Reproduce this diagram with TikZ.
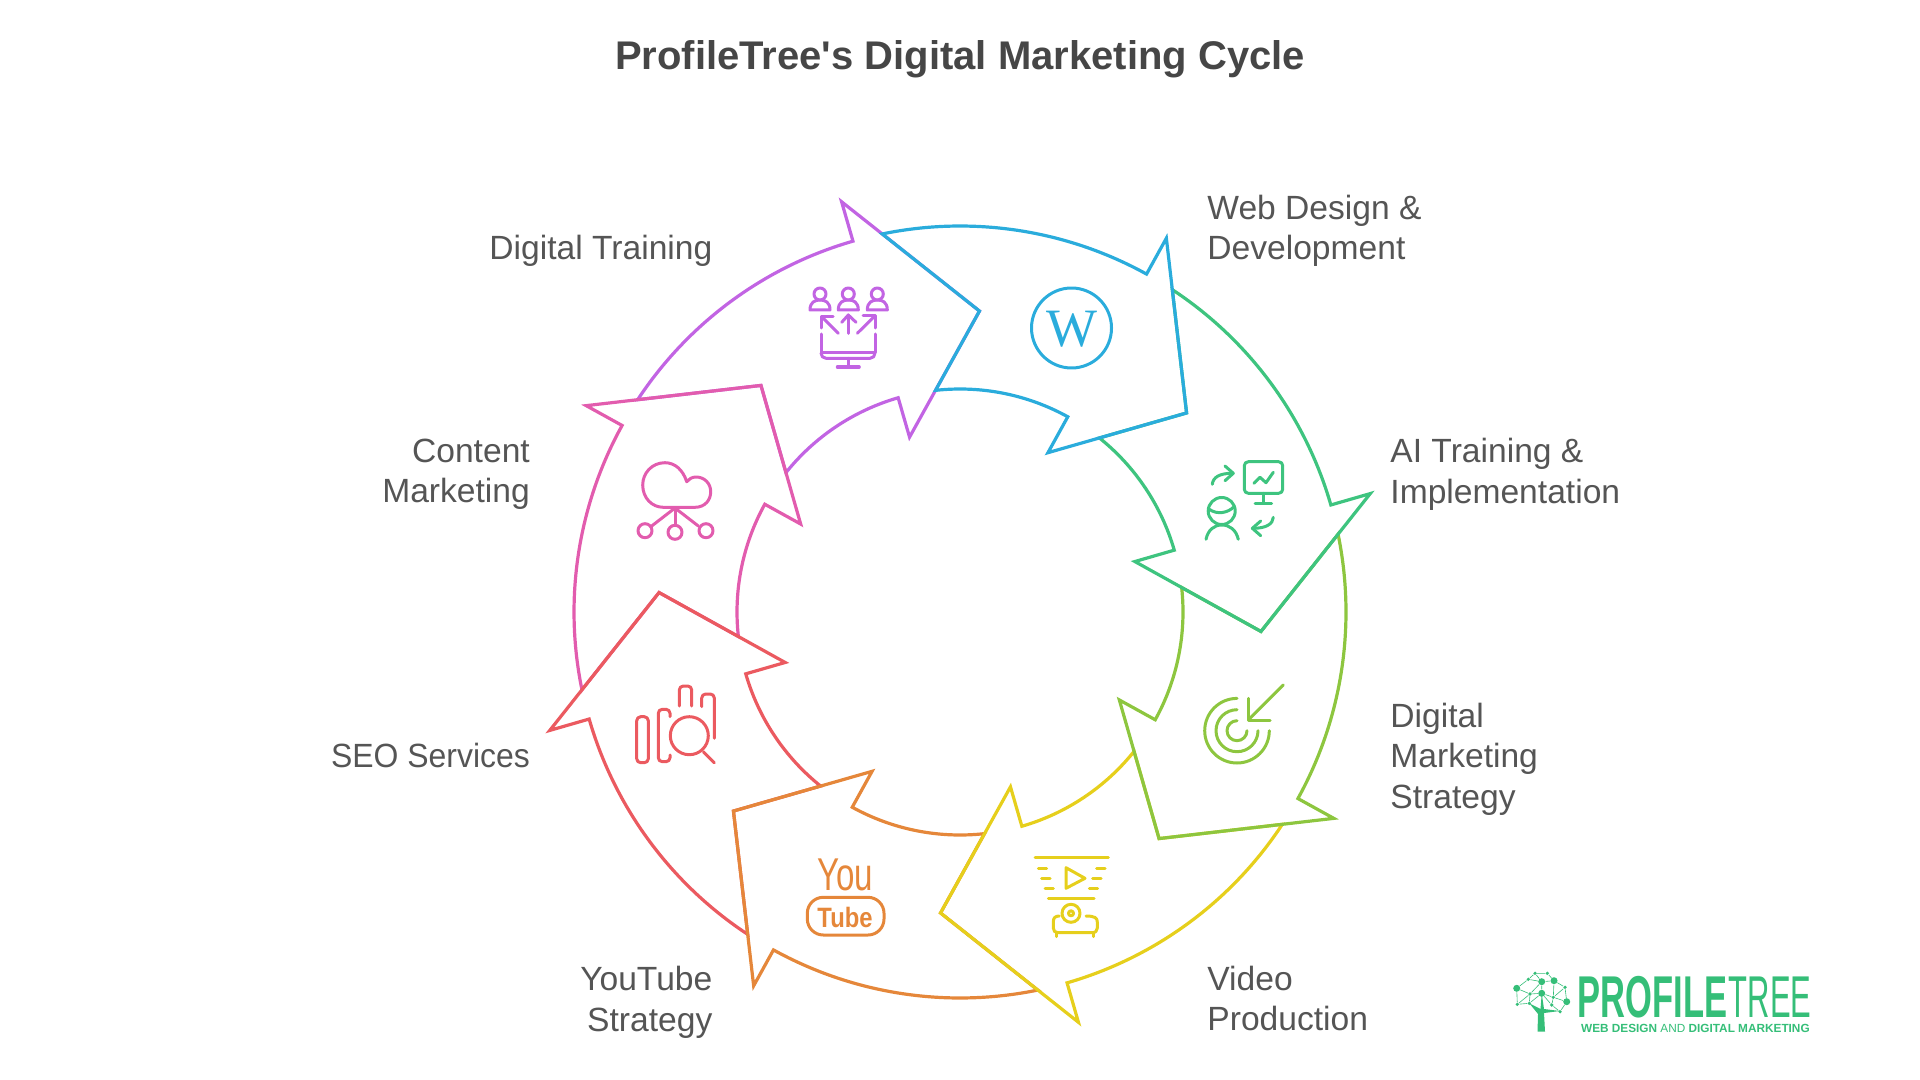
\documentclass[tikz,border=0pt]{standalone}
\usepackage{fontspec}
\setmainfont[Ligatures=TeXOff]{Liberation Sans}
\newfontfamily\wfont{Liberation Serif}
\definecolor{trainpurple}{HTML}{C264E3}
\definecolor{webblue}{HTML}{2AACDC}
\definecolor{aigreen}{HTML}{3EC47F}
\definecolor{stratlime}{HTML}{8DC63F}
\definecolor{videoyellow}{HTML}{E6CF1C}
\definecolor{tubeorange}{HTML}{E5873A}
\definecolor{seored}{HTML}{EB5A60}
\definecolor{contentpink}{HTML}{E25CAE}
\definecolor{logogreen}{HTML}{35BE78}
\definecolor{labelgray}{HTML}{555555}
\definecolor{titlegray}{HTML}{464646}
\tikzset{
    segment/.style={line width=1.6pt},
    icon/.style={line width=1.5pt, line cap=round, line join=round},
    label/.style={text=labelgray, inner sep=0pt, font=\fontsize{16.8}{20.2}\selectfont},
    labelleft/.style={label, anchor=east, align=right},
    labelright/.style={label, anchor=west, align=left},
    logodot/.style={circle, fill=logogreen, inner sep=0pt, minimum size=#1},
    logoline/.style={line width=0.3pt, logogreen}
}

\begin{document}
\begin{tikzpicture}[x=0.5pt, y=-0.5pt]
            \useasboundingbox (0, 0) rectangle (1920, 1080);

            % Title
            \node[text=titlegray, font=\fontsize{20}{24}\selectfont\bfseries] (title) at (960, 59.5) {ProfileTree's Digital Marketing Cycle};

            % Arrows of the ring
            \begin{scope}[shift={(960, 612)}]
                \draw[segment, trainpurple] (213.37:386) arc[start angle=213.37, end angle=253.9, radius=386] -- (253.9:427) -- (273.7:301.6) -- (253.9:182) -- (253.9:223) arc[start angle=253.9, end angle=218.69, radius=223] -- (228.7:301.6) -- cycle;
                \draw[segment, contentpink] (168.37:386) arc[start angle=168.37, end angle=208.9, radius=386] -- (208.9:427) -- (228.7:301.6) -- (208.9:182) -- (208.9:223) arc[start angle=208.9, end angle=173.69, radius=223] -- (183.7:301.6) -- cycle;
                \draw[segment, seored] (123.37:386) arc[start angle=123.37, end angle=163.9, radius=386] -- (163.9:427) -- (183.7:301.6) -- (163.9:182) -- (163.9:223) arc[start angle=163.9, end angle=128.69, radius=223] -- (138.7:301.6) -- cycle;
                \draw[segment, tubeorange] (78.37:386) arc[start angle=78.37, end angle=118.9, radius=386] -- (118.9:427) -- (138.7:301.6) -- (118.9:182) -- (118.9:223) arc[start angle=118.9, end angle=83.69, radius=223] -- (93.7:301.6) -- cycle;
                \draw[segment, videoyellow] (33.37:386) arc[start angle=33.37, end angle=73.9, radius=386] -- (73.9:427) -- (93.7:301.6) -- (73.9:182) -- (73.9:223) arc[start angle=73.9, end angle=38.69, radius=223] -- (48.7:301.6) -- cycle;
                \draw[segment, stratlime] (-11.63:386) arc[start angle=-11.63, end angle=28.9, radius=386] -- (28.9:427) -- (48.7:301.6) -- (28.9:182) -- (28.9:223) arc[start angle=28.9, end angle=-6.31, radius=223] -- (3.7:301.6) -- cycle;
                \draw[segment, aigreen] (303.37:386) arc[start angle=303.37, end angle=343.9, radius=386] -- (343.9:427) -- (363.7:301.6) -- (343.9:182) -- (343.9:223) arc[start angle=343.9, end angle=308.69, radius=223] -- (318.7:301.6) -- cycle;
                \draw[segment, webblue] (258.37:386) arc[start angle=258.37, end angle=298.9, radius=386] -- (298.9:427) -- (318.7:301.6) -- (298.9:182) -- (298.9:223) arc[start angle=298.9, end angle=263.69, radius=223] -- (273.7:301.6) -- cycle;
            \end{scope}

            % Labels
            \node[labelleft] (training) at (712.7, 251) {Digital Training};
            \node[labelright] (web) at (1207, 230.7) {Web Design \&\\Development};
            \node[labelright] (ai) at (1390, 474.5) {AI Training \&\\Implementation};
            \node[labelright] (strategy) at (1390, 759.2) {Digital\\Marketing\\Strategy};
            \node[labelright] (video) at (1207, 998.6) {Video\\Production};
            \node[labelleft] (youtube) at (712.7, 1002.3) {YouTube\\Strategy};
            \node[labelleft] (seo) at (530.2, 755.5) {\scalebox{.95}[1]{SEO Services}};
            \node[labelleft] (content) at (530.2, 474.5) {Content\\Marketing};

            % Digital Training icon
            \draw[icon, trainpurple] (820, 294) circle (6);
            \draw[icon, trainpurple] (848.3, 294) circle (6);
            \draw[icon, trainpurple] (877.3, 294) circle (6);
            \draw[icon, trainpurple] (810, 310) .. controls (810, 302) and (815, 300) .. (820, 300) .. controls (825, 300) and (830, 302) .. (830, 310) -- cycle;
            \draw[icon, trainpurple] (838.3, 310) .. controls (838.3, 302) and (843.3, 300) .. (848.3, 300) .. controls (853.3, 300) and (858.3, 302) .. (858.3, 310) -- cycle;
            \draw[icon, trainpurple] (867.3, 310) .. controls (867.3, 302) and (872.3, 300) .. (877.3, 300) .. controls (882.3, 300) and (887.3, 302) .. (887.3, 310) -- cycle;
            \draw[icon, trainpurple] (838.3, 333.3) -- (821.7, 316.7);
            \draw[icon, trainpurple] (821.7, 328) -- (821.7, 316.7) -- (833, 316.7);
            \draw[icon, trainpurple] (848.3, 333.3) -- (848.3, 315);
            \draw[icon, trainpurple] (841.7, 322.3) -- (848.3, 315) -- (856, 322.3);
            \draw[icon, trainpurple] (857.3, 333.3) -- (875, 315.7);
            \draw[icon, trainpurple] (863, 315.7) -- (875, 315.7) -- (875, 328);
            \draw[icon, trainpurple] (821, 334) -- (821, 353) -- (875, 353) -- (875, 334);
            \draw[icon, trainpurple] (821, 353) .. controls (821, 356) and (823, 358.3) .. (826, 358.3) -- (870, 358.3) .. controls (873, 358.3) and (875, 356) .. (875, 353);
            \draw[icon, trainpurple] (848.3, 358.3) -- (848.3, 367);
            \draw[icon, trainpurple] (837.3, 367) -- (859.3, 367);

            % Web Design icon
            \draw[icon, webblue] (1071.5, 328) circle (40);
            \node[text=webblue, inner sep=0pt, font=\wfont\fontsize{27}{27}\selectfont] (wletter) at (1071.5, 329) {W};

            % AI Training icon
            \draw[icon, aigreen, rounded corners=2pt] (1244.3, 461.7) rectangle (1282.7, 493.3);
            \draw[icon, aigreen] (1263.3, 493.3) -- (1263.3, 503.3);
            \draw[icon, aigreen] (1255, 503.3) -- (1271.7, 503.3);
            \draw[icon, aigreen] (1254, 483.3) -- (1260, 477.3) -- (1266, 482.7) -- (1273.3, 472.3);
            \draw[icon, aigreen] (1212.3, 484.3) .. controls (1213, 477) and (1220, 473.3) .. (1232, 473.3);
            \draw[icon, aigreen] (1225, 466) -- (1233.3, 473.3) -- (1225, 480.7);
            \draw[icon, aigreen] (1221.7, 511) circle (13.5);
            \draw[icon, aigreen] (1209.3, 509.3) .. controls (1217, 515) and (1228, 513) .. (1234, 506.7);
            \draw[icon, aigreen] (1206, 539.3) .. controls (1208, 530) and (1214, 525) .. (1221.7, 525) .. controls (1230, 525) and (1236, 530) .. (1238.3, 539.3);
            \draw[icon, aigreen] (1273.3, 517.3) .. controls (1273, 524) and (1266, 528.3) .. (1253.3, 528.3);
            \draw[icon, aigreen] (1260.7, 521) -- (1252.3, 528.3) -- (1260.7, 535.7);

            % Digital Marketing Strategy icon
            \draw[icon, stratlime] (1269.3, 730.7) arc[start angle=0, end angle=270, radius=32.3];
            \draw[icon, stratlime] (1258, 730.7) arc[start angle=0, end angle=270, radius=21];
            \draw[icon, stratlime] (1247, 730.7) arc[start angle=0, end angle=270, radius=10];
            \draw[icon, stratlime] (1283.3, 685) -- (1248.3, 720);
            \draw[icon, stratlime] (1248.3, 698.3) -- (1248.3, 720) -- (1270, 720);

            % Video Production icon
            \draw[icon, videoyellow] (1035, 857.7) -- (1108.3, 857.7);
            \draw[icon, videoyellow] (1038.3, 868.3) -- (1046.7, 868.3);
            \draw[icon, videoyellow] (1041.7, 878.3) -- (1050, 878.3);
            \draw[icon, videoyellow] (1045, 888.3) -- (1053.3, 888.3);
            \draw[icon, videoyellow] (1096.7, 868.3) -- (1105, 868.3);
            \draw[icon, videoyellow] (1092.7, 878.3) -- (1101, 878.3);
            \draw[icon, videoyellow] (1089.3, 888.3) -- (1097.7, 888.3);
            \draw[icon, videoyellow] (1066, 867.7) -- (1085, 878.3) -- (1066, 888.3) -- cycle;
            \draw[icon, videoyellow] (1048.3, 898.3) -- (1094, 898.3);
            \draw[icon, videoyellow] (1071, 913.3) circle (9);
            \draw[icon, videoyellow] (1071, 913.3) circle (2.5);
            \draw[icon, videoyellow] (1059.3, 916) .. controls (1055, 916) and (1053.3, 918) .. (1053.3, 922) -- (1053.3, 928) .. controls (1053.3, 931) and (1055, 932.7) .. (1058, 932.7) -- (1092, 932.7) .. controls (1095.5, 932.7) and (1097.3, 931) .. (1097.3, 928) -- (1097.3, 922) .. controls (1097.3, 918) and (1095, 916) .. (1086, 916);
            \draw[icon, videoyellow] (1056, 933) -- (1056, 936.7);
            \draw[icon, videoyellow] (1093.3, 933) -- (1093.3, 936.7);

            % YouTube icon
            \node[text=tubeorange, inner sep=0pt, font=\fontsize{23}{23}\selectfont] (you) at (845, 875) {\scalebox{.72}[1]{You}};
            \draw[icon, tubeorange, rounded corners=8pt] (807.3, 897.3) rectangle (884, 935);
            \node[text=tubeorange, inner sep=0pt, font=\fontsize{14}{14}\selectfont\bfseries] (tube) at (845, 917) {\scalebox{.85}[1]{Tube}};

            % SEO Services icon
            \draw[icon, seored, rounded corners=2pt] (636.7, 716.7) rectangle (648.3, 762.7);
            \draw[icon, seored, rounded corners=2pt] (670, 716.7) -- (670, 709.3) -- (658.3, 709.3) -- (658.3, 761.7) -- (670, 761.7) -- (670, 755);
            \draw[icon, seored, rounded corners=2pt] (679.3, 706) -- (679.3, 686) -- (691.7, 686) -- (691.7, 706);
            \draw[icon, seored, rounded corners=2pt] (701.7, 706.7) -- (701.7, 694) -- (714.3, 694) -- (714.3, 738.3);
            \draw[icon, seored] (689.3, 735.7) circle (19);
            \draw[icon, seored] (703.3, 751.7) -- (714.3, 762.7);

            % Content Marketing icon
            \draw[icon, contentpink] (663.3, 507.3) -- (695, 507.3) .. controls (705, 507.3) and (710.7, 500) .. (710.7, 491.7) .. controls (710.7, 483) and (704, 477) .. (696, 477) .. controls (692, 477) and (689, 479) .. (686.7, 481.7) .. controls (683, 470) and (675, 462.7) .. (665, 462.7) .. controls (652, 462.7) and (642.7, 473) .. (642.7, 485) .. controls (642.7, 498) and (652, 507.3) .. (663.3, 507.3) -- cycle;
            \draw[icon, contentpink] (675, 508) -- (675, 525);
            \draw[icon, contentpink] (675, 508) -- (651.7, 526);
            \draw[icon, contentpink] (675, 508) -- (698.3, 526);
            \draw[icon, contentpink] (645, 530.7) circle (7);
            \draw[icon, contentpink] (675, 532.3) circle (7);
            \draw[icon, contentpink] (706, 530.7) circle (7);

            % Logo
            \fill[logogreen] (1537.5, 1031.7) -- (1545, 1031.7) -- (1544, 1013) -- (1560, 1011) -- (1544, 1009) -- (1541.7, 993.3) -- (1540.5, 1009) -- (1529.3, 1003.3) -- (1538, 1014) -- cycle;
            \node[logodot=1.8pt] (d1) at (1535, 973.3) {};
            \node[logodot=1.8pt] (d2) at (1547.3, 973.3) {};
            \node[logodot=1.8pt] (d3) at (1528.3, 979.3) {};
            \node[logodot=3.5pt] (d4) at (1541.7, 981.7) {};
            \node[logodot=3.5pt] (d5) at (1554, 980.7) {};
            \node[logodot=1.8pt] (d6) at (1565, 987.3) {};
            \node[logodot=3.5pt] (d7) at (1516.7, 988.3) {};
            \node[logodot=1.8pt] (d8) at (1530, 994) {};
            \node[logodot=3.5pt] (d9) at (1541.7, 993.3) {};
            \node[logodot=1.8pt] (d10) at (1553.3, 997.3) {};
            \node[logodot=3.5pt] (d11) at (1566.7, 1001.7) {};
            \node[logodot=1.8pt] (d12) at (1517.3, 1004.3) {};
            \node[logodot=1.8pt] (d13) at (1529.3, 1003.3) {};
            \node[logodot=1.8pt] (d14) at (1560, 1011.7) {};
            \node[logodot=1.8pt] (d15) at (1551.7, 1005) {};
            \draw[logoline] (d1) -- (d2) -- (d5) -- (d6) -- (d11) -- (d14) -- (d15) -- (d10) -- (d5) -- (d4) -- (d1) -- (d3) -- (d7) -- (d12) -- (d13) -- (d9) -- (d8) -- (d7);
            \draw[logoline] (d3) -- (d4) -- (d8) -- (d13);
            \draw[logoline] (d4) -- (d9) -- (d10) -- (d11);
            \draw[logoline] (d6) -- (d10);
            \draw[logoline] (d8) -- (d12);
            \draw[logoline] (d9) -- (d15);
            \node[text=logogreen, anchor=west, inner sep=0pt, font=\fontsize{29.5}{30}\selectfont\bfseries] (profile) at (1577.5, 997) {\scalebox{.585}[1]{PROFILE}};
            \node[text=logogreen, anchor=west, inner sep=0pt, font=\fontsize{29.5}{30}\selectfont] (tree) at (1728.5, 997) {\scalebox{.525}[1]{TREE}};
            \node[text=logogreen, anchor=west, inner sep=0pt, font=\fontsize{5.9}{6}\selectfont] (tagline) at (1580.7, 1028.5) {\textbf{WEB DESIGN} AND \textbf{DIGITAL MARKETING}};
\end{tikzpicture}
\end{document}
